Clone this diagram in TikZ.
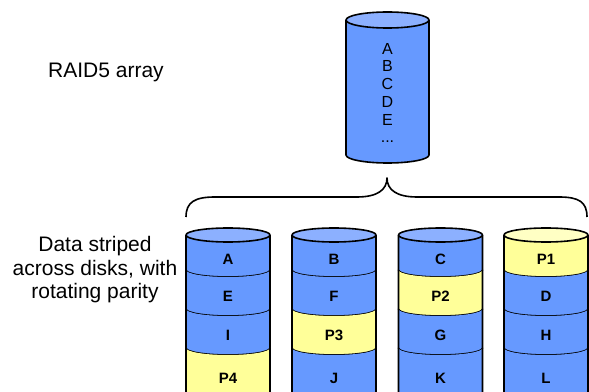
\documentclass[tikz,border=0pt]{standalone}
\usepackage{fontspec}
\setmainfont{Liberation Sans}
\definecolor{diskblue}{HTML}{6699FF}
\definecolor{diskbluetop}{HTML}{8CB0FF}
\definecolor{parity}{HTML}{FFFF99}
\definecolor{paritytop}{HTML}{FFFFC4}

% one band of a stacked disk: centre x, top y, bottom y, fill, label
\newcommand\disksegment[5]{%
  \fill[#4] ({#1-42},#2) arc[start angle=180,end angle=360,x radius=42,y radius=7]
    -- ({#1+42},#3) arc[start angle=0,end angle=-180,x radius=42,y radius=7] -- cycle;
  \draw ({#1-42},#2) -- ({#1-42},#3) arc[start angle=180,end angle=360,x radius=42,y radius=7]
    -- ({#1+42},#2);
  \node[seglabel] (seg-#5) at (#1,{(#2+#3)/2-7}) {#5};
}
% top lid of a stacked disk
\newcommand\disklid[3]{%
  \filldraw[fill=#2] (#1,#3) ellipse[x radius=42,y radius=7];
}

\begin{document}
\begin{tikzpicture}[x=1pt,y=1pt,line width=1.6pt,line join=round,
  seglabel/.style={inner sep=0pt,font=\fontsize{15}{17}\selectfont\bfseries},
  caption/.style={inner sep=0pt,align=center,font=\fontsize{21}{23.5}\selectfont}]
\useasboundingbox (0,0) rectangle (589,391);
\clip (0,0) rectangle (589,391);

% the logical array
\fill[diskblue] (346,371) -- (346,236)
  arc[start angle=180,end angle=360,x radius=41.5,y radius=8] -- (429,371) -- cycle;
\draw (346,371) -- (346,236)
  arc[start angle=180,end angle=360,x radius=41.5,y radius=8] -- (429,371);
\filldraw[fill=diskbluetop] (387.5,371) ellipse[x radius=41.5,y radius=8];
\node[inner sep=0pt,align=center,font=\fontsize{16}{17.7}\selectfont]
  (arraydata) at (387.5,298) {A\\B\\C\\D\\E\\...};

% brace
\draw (186,174) .. controls (186,189) and (195,194) .. (215,194)
  -- (357,194) .. controls (377,194) and (387,201) .. (387,213)
  .. controls (387,201) and (397,194) .. (417,194)
  -- (559,194) .. controls (579,194) and (587,189) .. (587,174);

% member disks
\disksegment{228}{156}{121}{diskblue}{A}
\disksegment{228}{121}{82}{diskblue}{E}
\disksegment{228}{82}{43}{diskblue}{I}
\disksegment{228}{43}{-4}{parity}{P4}
\disklid{228}{diskbluetop}{156}

\disksegment{334}{156}{121}{diskblue}{B}
\disksegment{334}{121}{82}{diskblue}{F}
\disksegment{334}{82}{43}{parity}{P3}
\disksegment{334}{43}{-4}{diskblue}{J}
\disklid{334}{diskbluetop}{156}

\disksegment{440.5}{156}{121}{diskblue}{C}
\disksegment{440.5}{121}{82}{parity}{P2}
\disksegment{440.5}{82}{43}{diskblue}{G}
\disksegment{440.5}{43}{-4}{diskblue}{K}
\disklid{440.5}{diskbluetop}{156}

\disksegment{546}{156}{121}{parity}{P1}
\disksegment{546}{121}{82}{diskblue}{D}
\disksegment{546}{82}{43}{diskblue}{H}
\disksegment{546}{43}{-4}{diskblue}{L}
\disklid{546}{paritytop}{156}

% captions
\node[caption] (cap-array) at (106,319) {RAID5 array};
\node[caption] (cap-disks) at (95,121) {Data striped\\across disks, with\\rotating parity};
\end{tikzpicture}
\end{document}
